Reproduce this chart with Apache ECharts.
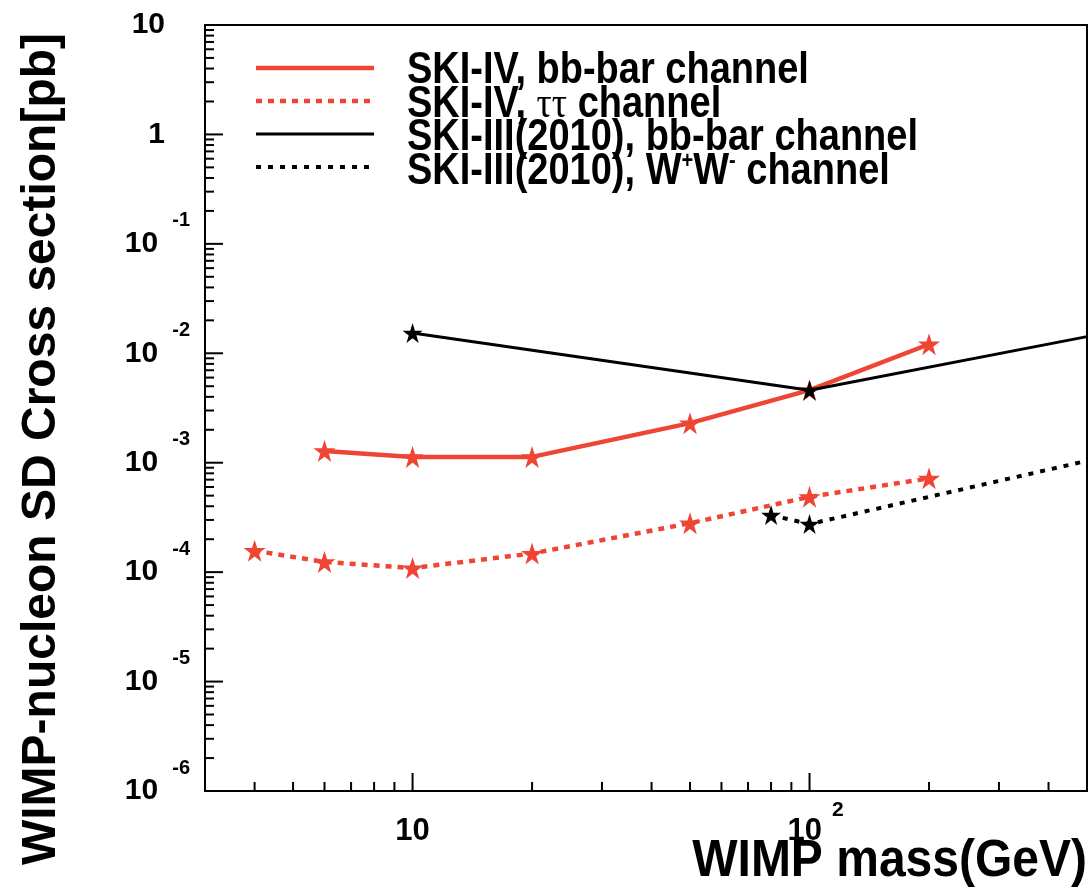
<!DOCTYPE html>
<html><head><meta charset="utf-8">
<script src="https://cdn.jsdelivr.net/npm/echarts@6/dist/echarts.min.js"></script>
<style>html,body{margin:0;padding:0;background:#fff}#c{width:1090px;height:893px}</style>
</head><body><div id="c"></div>
<script>
// ---- data ----
const skiIVbbMass   = [6, 10, 20, 50, 100, 200];
const skiIVbbSigma  = [1.28e-3, 1.13e-3, 1.13e-3, 2.3e-3, 4.6e-3, 1.21e-2];
const skiIVtauMass  = [4, 6, 10, 20, 50, 100, 200];
const skiIVtauSigma = [1.57e-4, 1.24e-4, 1.09e-4, 1.48e-4, 2.8e-4, 4.88e-4, 7.2e-4];
const skiIIIbbMass  = [10, 100, 500];
const skiIIIbbSigma = [1.53e-2, 4.6e-3, 1.42e-2];
const skiIIIbbMarked = [true, true, false];
const skiIIIwwMass  = [80, 100, 500];
const skiIIIwwSigma = [3.32e-4, 2.75e-4, 1.04e-3];
const skiIIIwwMarked = [true, true, false];
const legendLabels = [
  '{a|SKI-IV, bb-bar channel}',
  '{a|SKI-IV, }{t|ττ}{a| channel}',
  '{a|SKI-III(2010), bb-bar channel}',
  '{a|SKI-III(2010), W}{sp|+}{a|W}{sm|-}{a| channel}'
];
const xTitle = 'WIMP mass(GeV)';
const yTitle = 'WIMP-nucleon SD Cross section[pb]';
const xRange = [3, 500];
const yRange = [1e-6, 10];
const xTickValues = [4,5,6,7,8,9,10,20,30,40,50,60,70,80,90,100,200,300,400];
const yTickValues = [];
for (let e = -6; e <= 0; e++) for (let k = 1; k <= 9; k++) yTickValues.push(k * Math.pow(10, e));
yTickValues.push(10);

// ---- styling ----
const RED = '#ee4535';
const FONT = '"Liberation Sans", Arial, Helvetica, sans-serif';
const STAR = 'path://M50,2 L61.8,38 L99.5,38 L69,60.5 L80.5,96.5 L50,74 L19.5,96.5 L31,60.5 L0.5,38 L38.2,38 Z';
function isPow10(v) { const l = Math.log10(v); return Math.abs(l - Math.round(l)) < 1e-6; }
function pts(ms, ss, marked) {
  return ms.map((m, i) => (marked && !marked[i]) ? { value: [m, ss[i]], symbol: 'none' } : [m, ss[i]]);
}

const chart = echarts.init(document.getElementById('c'), null, { renderer: 'canvas' });

const legendRows = [
  { color: RED, width: 4.5, dash: null },
  { color: RED, width: 4.5, dash: [6, 6] },
  { color: '#000', width: 3, dash: null },
  { color: '#000', width: 4, dash: [5, 7] }
];
const legendLineY = [68, 101, 134, 167];
const legendTextY = [71, 105, 138, 172];
const graphic = [];
legendRows.forEach((r, i) => {
  graphic.push({ type: 'line', shape: { x1: 256, y1: legendLineY[i], x2: 374, y2: legendLineY[i] },
    style: { stroke: r.color, lineWidth: r.width, lineDash: r.dash }, z: 10 });
  graphic.push({ type: 'text', x: 407, y: legendTextY[i], scaleY: 1.17, z: 10,
    style: { text: legendLabels[i], verticalAlign: 'middle', align: 'left',
      rich: {
        a: { fontFamily: FONT, fontWeight: 'bold', fontSize: 38, fill: '#000', lineHeight: 38 },
        t: { fontFamily: '"Liberation Serif", serif', fontWeight: 'normal', fontSize: 38, fill: '#000', lineHeight: 38 },
        sp: { fontFamily: FONT, fontWeight: 'bold', fontSize: 20, fill: '#000', padding: [0, 0, 18, 0] },
        sm: { fontFamily: FONT, fontWeight: 'bold', fontSize: 20, fill: '#000', padding: [0, 0, 18, 0] }
      } } });
});
graphic.push({ type: 'text', x: 1087, y: 862, scaleY: 1.08, z: 10,
  style: { text: xTitle, align: 'right', verticalAlign: 'middle',
    font: 'bold 48px ' + FONT, fill: '#000' } });

const tickSeries = (vals, axis) => ({
  type: 'custom', silent: true, clip: false, z: 5,
  data: vals.map(v => axis === 'x' ? [v, yRange[0]] : [xRange[0], v]),
  renderItem: (params, api) => {
    const v = api.value(axis === 'x' ? 0 : 1);
    const p = api.coord(axis === 'x' ? [v, yRange[0]] : [xRange[0], v]);
    const len = isPow10(v) ? 18 : 9;
    const shape = axis === 'x'
      ? { x1: p[0], y1: p[1], x2: p[0], y2: p[1] - len }
      : { x1: p[0], y1: p[1], x2: p[0] + len, y2: p[1] };
    return { type: 'line', shape, style: { stroke: '#000', lineWidth: 2 } };
  }
});

const option = {
  animation: false,
  backgroundColor: '#fff',
  grid: { left: 205, top: 25, right: 3, bottom: 102, show: true, borderColor: '#000', borderWidth: 2,
    containLabel: false, outerBoundsMode: 'none' },
  xAxis: {
    type: 'log', min: xRange[0], max: xRange[1], splitNumber: 2,
    axisLine: { show: true, lineStyle: { color: '#000', width: 2 } },
    axisTick: { show: false }, splitLine: { show: false }, minorTick: { show: false },
    axisLabel: {
      margin: 40, verticalAlign: 'middle',
      formatter: v => {
        if (!isPow10(v)) return '';
        const e = Math.round(Math.log10(v));
        if (e === 1) return '{b|10}';
        return '{bx|10}{s|' + e + '}';
      },
      rich: {
        b: { fontFamily: FONT, fontWeight: 'bold', fontSize: 31, color: '#000' },
        bx: { fontFamily: FONT, fontWeight: 'bold', fontSize: 31, color: '#000', padding: [0, 0, 0, 12] },
        s: { fontFamily: FONT, fontWeight: 'bold', fontSize: 21, color: '#000', padding: [0, 0, 42, 10] }
      }
    }
  },
  yAxis: {
    type: 'log', min: yRange[0], max: yRange[1], splitNumber: 7,
    axisLine: { show: true, lineStyle: { color: '#000', width: 2 } },
    axisTick: { show: false }, splitLine: { show: false }, minorTick: { show: false },
    axisLabel: {
      margin: 15,
      formatter: v => {
        if (!isPow10(v)) return '';
        const e = Math.round(Math.log10(v));
        if (e === 1) return '{p|10}';
        if (e === 0) return '{p|1}';
        return '{b|10}{s|' + e + '}';
      },
      rich: {
        p: { fontFamily: FONT, fontWeight: 'bold', fontSize: 30, color: '#000', padding: [0, 25, 0, 0] },
        b: { fontFamily: FONT, fontWeight: 'bold', fontSize: 30, color: '#000' },
        s: { fontFamily: FONT, fontWeight: 'bold', fontSize: 20, color: '#000', padding: [0, 0, 46, 14] }
      }
    },
    name: yTitle, nameLocation: 'middle', nameGap: 139,
    nameTextStyle: { fontFamily: FONT, fontWeight: 'bold', fontSize: 48, color: '#000', padding: [0, 82, 0, 0] }
  },
  graphic: graphic,
  series: [
    tickSeries(xTickValues, 'x'),
    tickSeries(yTickValues, 'y'),
    { name: 'SKI-IV, bb-bar channel', type: 'line', data: pts(skiIVbbMass, skiIVbbSigma),
      symbol: STAR, symbolSize: 22, itemStyle: { color: RED },
      lineStyle: { color: RED, width: 4.5 }, z: 3 },
    { name: 'SKI-IV, ττ channel', type: 'line', data: pts(skiIVtauMass, skiIVtauSigma),
      symbol: STAR, symbolSize: 22, itemStyle: { color: RED },
      lineStyle: { color: RED, width: 4.5, type: [6, 6] }, z: 3 },
    { name: 'SKI-III(2010), bb-bar channel', type: 'line', data: pts(skiIIIbbMass, skiIIIbbSigma, skiIIIbbMarked),
      symbol: STAR, symbolSize: 20, itemStyle: { color: '#000' },
      lineStyle: { color: '#000', width: 3 }, z: 4 },
    { name: 'SKI-III(2010), W+W- channel', type: 'line', data: pts(skiIIIwwMass, skiIIIwwSigma, skiIIIwwMarked),
      symbol: STAR, symbolSize: 20, itemStyle: { color: '#000' },
      lineStyle: { color: '#000', width: 4, type: [5, 7] }, z: 4 }
  ]
};
chart.setOption(option);
</script>
</body></html>
